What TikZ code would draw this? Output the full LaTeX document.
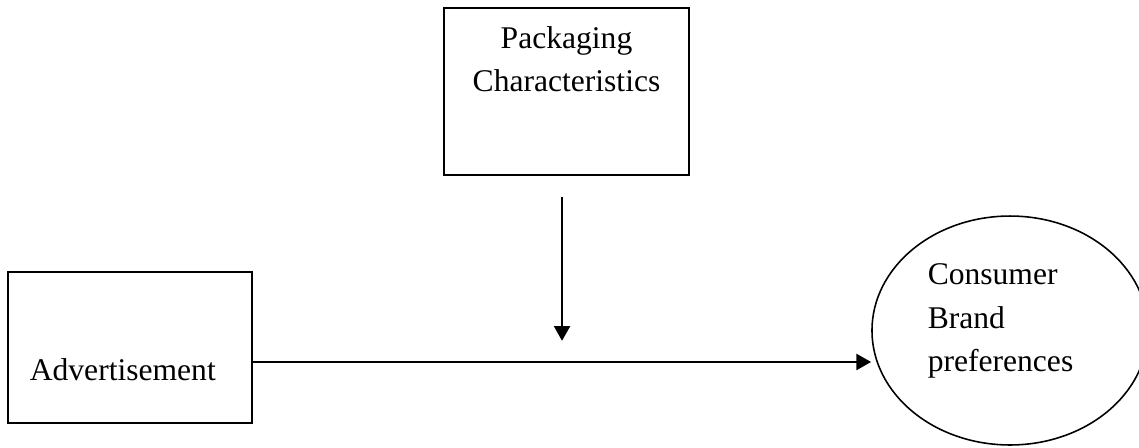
\documentclass[tikz,border=0pt]{standalone}
\usepackage{fontspec}
\setmainfont{Liberation Serif}
\usetikzlibrary{arrows.meta, positioning, shapes.geometric}

\tikzset{
	box/.style={draw, rectangle, line width=0.6pt, inner sep=0pt},
	txt/.style={inner sep=0pt, align=center},
	link/.style={->, line width=1pt}
}

\begin{document}
\begin{tikzpicture}[x=0.38pt, y=-0.38pt, >={Triangle[length=5.6pt, width=6pt]},
	font=\fontsize{12}{16.5}\selectfont]
	\useasboundingbox (0,0) rectangle (1139,447);
	
	% moderator
	\node[box, minimum width=93.1pt, minimum height=63.5pt] (pack) at (566.5,91.5) {};
	\node[txt, below=7pt of pack.north] (packtxt) {Packaging\\Characteristics};
	
	% independent variable
	\node[box, minimum width=92.7pt, minimum height=57.4pt] (adv) at (130,347.5) {};
	\node[txt, above right=16.3pt and 8.4pt of adv.south west] (advtxt) {Advertisement};
	
	% dependent variable
	\node[draw, ellipse, line width=0.6pt, inner sep=0pt, minimum width=104.9pt, minimum height=87pt] (pref) at (1010,330.5) {};
	\node[txt, align=left, anchor=north west] (preftxt) at ([xshift=21.3pt, yshift=25.5pt]pref.west) {Consumer\\Brand\\preferences};
	
	\coordinate[below=5.5pt of adv.east] (astart);
	\draw[link] (astart) -- (astart -| pref.west);
	
	\coordinate[below=8pt of pack.south, xshift=-1.7pt] (vtop);
	\coordinate[below=54.7pt of vtop] (vtip);
	\draw[link] (vtop) -- (vtip);
	
\end{tikzpicture}
\end{document}
